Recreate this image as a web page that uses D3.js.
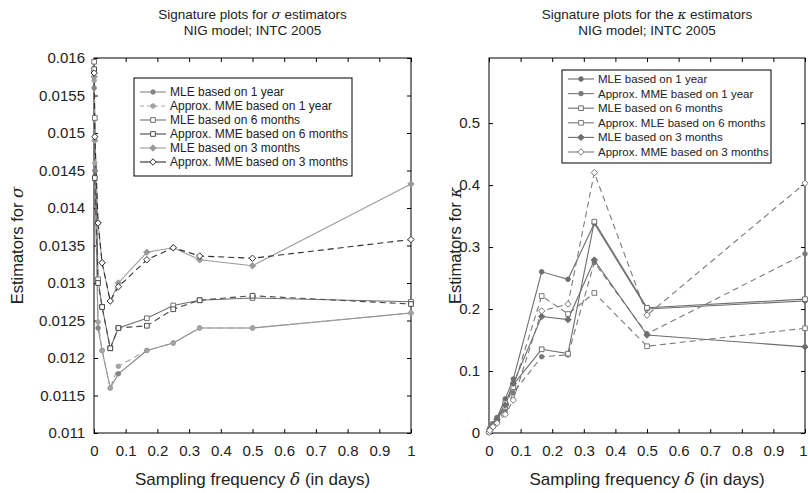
<!DOCTYPE html>
<html><head><meta charset="utf-8">
<script src="https://cdn.jsdelivr.net/npm/d3@7"></script>
<style>
body{margin:0;background:#fff;}
text{font-family:"Liberation Sans",Arial,sans-serif;fill:#222;}
</style></head>
<body><svg id="c" width="808" height="493"></svg>
<script>
// ---------- data ----------
const deltas = [0.0005, 0.0026, 0.0128, 0.0256, 0.0513, 0.0769, 0.1667, 0.25, 0.3333, 0.5, 1];

const seriesNamesSigma = ["MLE based on 1 year","Approx. MME based on 1 year","MLE based on 6 months","Approx. MME based on 6 months","MLE based on 3 months","Approx. MME based on 3 months"];
const sigmaMLE1y = [0.0156, 0.0145, 0.0124, 0.0121, 0.0116, 0.01179, 0.0121, 0.0122, 0.0124, 0.0124, 0.0126];
const sigmaMME1y = [0.0157, 0.0146, 0.01248, 0.0121, 0.0116, 0.01189, 0.0121, 0.0122, 0.0124, 0.0124, 0.0126];
const sigmaMLE6m = [0.01595, 0.0152, 0.01305, 0.01268, 0.01213, 0.0124, 0.01253, 0.0127, 0.01277, 0.0128, 0.01275];
const sigmaMME6m = [0.01585, 0.0144, 0.0130, 0.01268, 0.01213, 0.0124, 0.01243, 0.01265, 0.01277, 0.01283, 0.01272];
const sigmaMLE3m = [0.01575, 0.0149, 0.0138, 0.01327, 0.01276, 0.0130, 0.01341, 0.01347, 0.01331, 0.01323, 0.01432];
const sigmaMME3m = [0.0158, 0.01495, 0.0138, 0.01327, 0.01276, 0.01295, 0.01331, 0.01347, 0.01336, 0.01333, 0.01358];

const seriesNamesKappa = ["MLE based on 1 year","Approx. MME based on 1 year","MLE based on 6 months","Approx. MLE based on 6 months","MLE based on 3 months","Approx. MME based on 3 months"];
const kappaMLE1y = [0.002, 0.006, 0.015, 0.025, 0.055, 0.087, 0.260, 0.248, 0.338, 0.200, 0.213];
const kappaMME1y = [0.001, 0.004, 0.010, 0.018, 0.035, 0.065, 0.123, 0.126, 0.275, 0.160, 0.289];
const kappaMLE6m = [0.002, 0.006, 0.014, 0.023, 0.048, 0.078, 0.135, 0.128, 0.341, 0.202, 0.216];
const kappaMME6m = [0.002, 0.005, 0.012, 0.020, 0.042, 0.074, 0.221, 0.192, 0.226, 0.140, 0.169];
const kappaMLE3m = [0.002, 0.006, 0.013, 0.022, 0.045, 0.080, 0.188, 0.183, 0.279, 0.158, 0.139];
const kappaMME3m = [0.001, 0.004, 0.010, 0.016, 0.030, 0.053, 0.197, 0.208, 0.420, 0.190, 0.403];

const xTicks = [0,0.1,0.2,0.3,0.4,0.5,0.6,0.7,0.8,0.9,1];
const sigmaTicks = [0.011,0.0115,0.012,0.0125,0.013,0.0135,0.014,0.0145,0.015,0.0155,0.016];
const kappaTicks = [0,0.1,0.2,0.3,0.4,0.5];

// ---------- styles ----------
const sigmaStyles = [
  {c:"#858585", dash:null, m:"circle", fill:"#858585", legDash:null},
  {c:"#a3a3a3", dash:"6,4", m:"circle", fill:"#a3a3a3", legDash:"4,3"},
  {c:"#6f6f6f", dash:null, m:"square", fill:"#fff", legDash:null},
  {c:"#4a4a4a", dash:"6,4", m:"square", fill:"#fff", legDash:null},
  {c:"#9a9a9a", dash:null, m:"diamond", fill:"#9a9a9a", legDash:null},
  {c:"#2e2e2e", dash:"6,4", m:"diamond", fill:"#fff", legDash:null}
];
const kappaStyles = [
  {c:"#6e6e6e", dash:null, m:"circle", fill:"#6e6e6e", legDash:null},
  {c:"#7a7a7a", dash:"6,4", m:"circle", fill:"#7a7a7a", legDash:null},
  {c:"#6e6e6e", dash:null, m:"square", fill:"#fff", legDash:null},
  {c:"#7a7a7a", dash:"6,4", m:"square", fill:"#fff", legDash:null},
  {c:"#6e6e6e", dash:null, m:"diamond", fill:"#6e6e6e", legDash:null},
  {c:"#7a7a7a", dash:"6,4", m:"diamond", fill:"#fff", legDash:null}
];

const svg = d3.select("#c");

function symbolPath(m){
  if(m==="circle") return d3.symbol(d3.symbolCircle, 16)();
  if(m==="square") return d3.symbol(d3.symbolSquare, 22)();
  return d3.symbol(d3.symbolDiamond2 || d3.symbolDiamond, 26)();
}

function panel(opt){
  const g = svg.append("g");
  const x = d3.scaleLinear().domain([0,1]).range([opt.x0, opt.x1]);
  const y = d3.scaleLinear().domain(opt.ydom).range([opt.y1, opt.y0]);
  g.append("rect").attr("x",opt.x0).attr("y",opt.y0).attr("width",opt.x1-opt.x0).attr("height",opt.y1-opt.y0)
    .attr("fill","none").attr("stroke","#000").attr("stroke-width",1);
  const tl = 4;
  const xb = g.append("g").attr("transform",`translate(0,${opt.y1})`)
    .call(d3.axisBottom(x).tickValues(xTicks).tickSize(-tl).tickPadding(12).tickFormat(d3.format("")));
  const xt = g.append("g").attr("transform",`translate(0,${opt.y0})`)
    .call(d3.axisTop(x).tickValues(xTicks).tickSize(-tl).tickFormat(""));
  const yl = g.append("g").attr("transform",`translate(${opt.x0},0)`)
    .call(d3.axisLeft(y).tickValues(opt.yticks).tickSize(-tl).tickPadding(9).tickFormat(opt.yfmt));
  const yr = g.append("g").attr("transform",`translate(${opt.x1},0)`)
    .call(d3.axisRight(y).tickValues(opt.yticks).tickSize(-tl).tickFormat(""));
  [xb,xt,yl,yr].forEach(a=>{a.select(".domain").remove(); a.selectAll(".tick line").attr("stroke","#000");
    a.selectAll("text").style("font-size","15px").attr("fill","#222");});
  if(opt.clipLast){
    xb.selectAll(".tick text").filter(d=>d===1).attr("text-anchor","end").attr("x",2);
  }
  const line = d3.line().x((d,i)=>x(deltas[i])).y(d=>y(d));
  opt.series.forEach((s,k)=>{
    const st = opt.styles[k];
    g.append("path").datum(s).attr("d",line).attr("fill","none").attr("stroke",st.c)
      .attr("stroke-width",1.1).attr("stroke-dasharray",st.dash);
  });
  opt.series.forEach((s,k)=>{
    const st = opt.styles[k];
    g.selectAll(null).data(s).enter().append("path")
      .attr("d",symbolPath(st.m)).attr("transform",(d,i)=>`translate(${x(deltas[i])},${y(d)})`)
      .attr("fill",st.fill).attr("stroke",st.c).attr("stroke-width",1);
  });
  const cx = (opt.x0+opt.x1)/2;
  g.append("text").attr("x",cx).attr("y",19).attr("text-anchor","middle").style("font-size","13.5px").html(opt.title1);
  g.append("text").attr("x",cx).attr("y",35).attr("text-anchor","middle").style("font-size","13.5px").text("NIG model; INTC 2005");
  g.append("text").attr("x",cx).attr("y",485).attr("text-anchor","middle").style("font-size","17px")
    .html('Sampling frequency <tspan font-family="DejaVu Serif" font-style="italic">δ</tspan> (in days)');
  g.append("text").attr("transform",`translate(${opt.ylabx},${(opt.y0+opt.y1)/2}) rotate(-90)`).attr("text-anchor","middle")
    .style("font-size","16.5px").html(opt.ylab);
  const L = opt.leg;
  g.append("rect").attr("x",L.x).attr("y",L.y).attr("width",L.w).attr("height",L.h).attr("fill","#fff").attr("stroke","#000").attr("stroke-width",1);
  opt.names.forEach((n,k)=>{
    const st = opt.styles[k];
    const yy = L.y + L.r0 + k*L.dy;
    g.append("line").attr("x1",L.x+6).attr("x2",L.x+32).attr("y1",yy).attr("y2",yy).attr("stroke",st.c)
      .attr("stroke-width",1.1).attr("stroke-dasharray",st.legDash);
    g.append("path").attr("d",symbolPath(st.m)).attr("transform",`translate(${L.x+19},${yy})`)
      .attr("fill",st.fill).attr("stroke",st.c);
    g.append("text").attr("x",L.x+36).attr("y",yy).attr("dy","0.35em").style("font-size",L.fs).text(n);
  });
}

panel({x0:94,x1:411,y0:58,y1:433,ydom:[0.011,0.016],yticks:sigmaTicks,yfmt:d3.format(""),
  series:[sigmaMLE1y,sigmaMME1y,sigmaMLE6m,sigmaMME6m,sigmaMLE3m,sigmaMME3m],styles:sigmaStyles,names:seriesNamesSigma,
  title1:'Signature plots for <tspan font-family="DejaVu Serif" font-style="italic">σ</tspan> estimators',
  ylab:'Estimators for <tspan font-family="DejaVu Serif" font-style="italic">σ</tspan>', ylabx:23,
  leg:{x:134,y:78,w:218,h:98,r0:14,dy:14,fs:"12px"}});

panel({x0:489,x1:805,y0:58,y1:433,ydom:[0,0.605],yticks:kappaTicks,yfmt:d3.format(""),clipLast:true,
  series:[kappaMLE1y,kappaMME1y,kappaMLE6m,kappaMME6m,kappaMLE3m,kappaMME3m],styles:kappaStyles,names:seriesNamesKappa,
  title1:'Signature plots for the <tspan font-family="DejaVu Serif" font-style="italic">κ</tspan> estimators',
  ylab:'Estimators for <tspan font-family="DejaVu Serif" font-style="italic">κ</tspan>', ylabx:461,
  leg:{x:562,y:70,w:209,h:93,r0:9,dy:14.6,fs:"11.5px"}});
</script></body></html>
